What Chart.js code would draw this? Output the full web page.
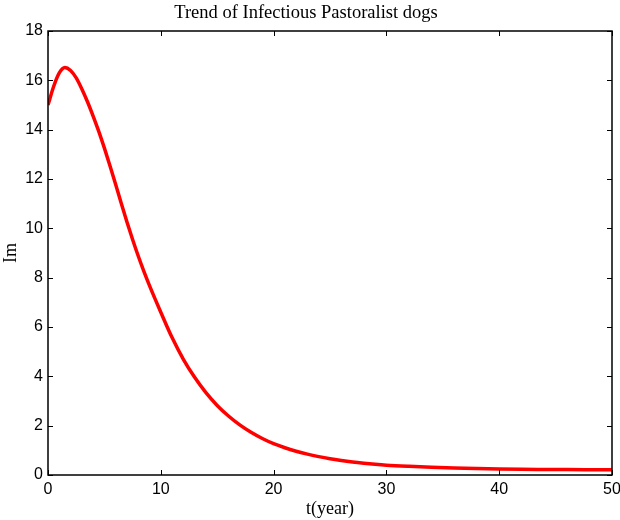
<!DOCTYPE html>
<html>
<head>
<meta charset="utf-8">
<script src="https://cdn.jsdelivr.net/npm/chart.js@4/dist/chart.umd.min.js"></script>
<style>
  html, body { margin: 0; padding: 0; background: #fff; }
  #wrap { width: 620px; height: 520px; }
</style>
</head>
<body>
<div id="wrap"><canvas id="c" width="620" height="520"></canvas></div>
<script>
// Infectious pastoralist dog population over time
const years = [0, 0.5, 1, 1.5, 2, 2.5, 3, 3.5, 4, 4.5, 5, 5.5, 6, 6.5, 7, 7.5, 8, 8.5, 9, 9.5, 10,
  11, 12, 13, 14, 15, 16, 17, 18, 19, 20,
  21, 22, 23, 24, 25, 26, 27, 28, 29, 30, 32, 34, 36, 38, 40, 42, 44, 46, 48, 50];
const infectedDogs = [15.0, 15.75, 16.3, 16.52, 16.4, 16.1, 15.65, 15.13, 14.55, 13.93, 13.25, 12.53, 11.78, 11.01,
  10.26, 9.55, 8.88, 8.26, 7.68, 7.13, 6.6,
  5.57, 4.69, 3.96, 3.34, 2.82, 2.39, 2.03, 1.73, 1.48, 1.27,
  1.105, 0.965, 0.845, 0.745, 0.66, 0.59, 0.53, 0.48, 0.436, 0.40, 0.35, 0.31, 0.28, 0.26, 0.245,
  0.233, 0.225, 0.218, 0.213, 0.21];
const xTicks = [0, 10, 20, 30, 40, 50];
const yTicks = [0, 2, 4, 6, 8, 10, 12, 14, 16, 18];

const titleText = 'Trend of Infectious Pastoralist dogs';
const xLabel = 't(year)';
const yLabel = 'Im';

const serif = '"Liberation Serif", "DejaVu Serif", serif';
const sans = '"Liberation Sans", Arial, sans-serif';

// Frame around the plot area with inward tick marks on all four sides
const framePlugin = {
  id: 'frame',
  afterDatasetsDraw(chart) {
    const { ctx, chartArea: a, scales: { x, y } } = chart;
    const len = 5;
    ctx.save();
    ctx.strokeStyle = '#000';
    ctx.lineWidth = 1;
    ctx.beginPath();
    xTicks.forEach(v => {
      const px = Math.round(x.getPixelForValue(v)) + 0.5;
      ctx.moveTo(px, a.bottom); ctx.lineTo(px, a.bottom - len);
      ctx.moveTo(px, a.top); ctx.lineTo(px, a.top + len);
    });
    yTicks.forEach(v => {
      const py = Math.round(y.getPixelForValue(v)) + 0.5;
      ctx.moveTo(a.left, py); ctx.lineTo(a.left + len, py);
      ctx.moveTo(a.right, py); ctx.lineTo(a.right - len, py);
    });
    ctx.stroke();
    ctx.lineWidth = 1.5;
    ctx.strokeRect(a.left, a.top, a.right - a.left, a.bottom - a.top);
    ctx.restore();
  }
};

new Chart(document.getElementById('c'), {
  type: 'line',
  data: {
    datasets: [{
      data: years.map((t, i) => ({ x: t, y: infectedDogs[i] })),
      borderColor: '#ff0000',
      borderWidth: 3.5,
      pointRadius: 0,
      fill: false,
      cubicInterpolationMode: 'monotone'
    }]
  },
  options: {
    responsive: false,
    animation: false,
    devicePixelRatio: 1,
    layout: { padding: { top: 0, right: 8, bottom: 0, left: 0 } },
    plugins: {
      legend: { display: false },
      tooltip: { enabled: false },
      title: {
        display: true,
        text: titleText,
        color: '#000',
        font: { family: serif, size: 18.5, weight: 'normal' },
        padding: { top: 2, bottom: 6.8 }
      }
    },
    scales: {
      x: {
        type: 'linear',
        min: 0, max: 50,
        afterBuildTicks(scale) { scale.ticks = xTicks.map(v => ({ value: v })); },
        afterFit(scale) { scale.height = 45; scale.paddingLeft = 0; scale.paddingRight = 0; },
        grid: { display: false, drawTicks: false },
        border: { display: false },
        ticks: { color: '#000', font: { family: sans, size: 16 }, padding: 5, maxRotation: 0 },
        title: { display: true, text: xLabel, color: '#000', font: { family: serif, size: 18 }, padding: { top: -2, bottom: 0 } }
      },
      y: {
        type: 'linear',
        min: 0, max: 18,
        afterBuildTicks(scale) { scale.ticks = yTicks.map(v => ({ value: v })); },
        afterFit(scale) { scale.width = 48; scale.paddingTop = 0; scale.paddingBottom = 0; },
        grid: { display: false, drawTicks: false },
        border: { display: false },
        ticks: { color: '#000', font: { family: sans, size: 16 }, padding: 5 },
        title: { display: true, text: yLabel, color: '#000', font: { family: serif, size: 18 }, padding: { top: 0, bottom: 0 } }
      }
    }
  },
  plugins: [framePlugin]
});
</script>
</body>
</html>
